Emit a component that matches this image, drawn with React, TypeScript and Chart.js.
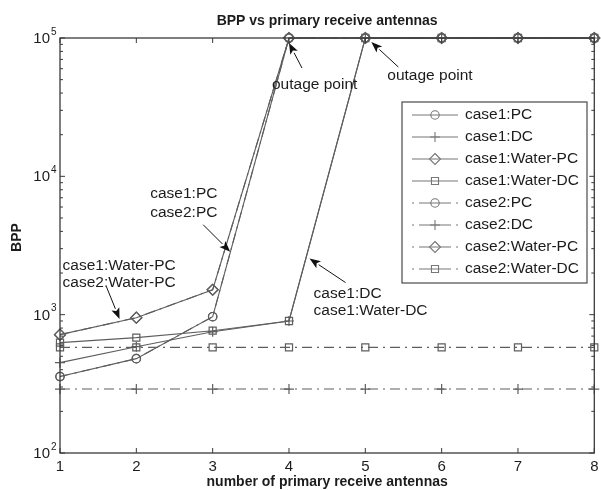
import { useEffect, useRef } from "react";
import { Chart, registerables } from "chart.js";

Chart.register(...registerables);

// ---- data -----------------------------------------------------------
const antennas = [1, 2, 3, 4, 5, 6, 7, 8];
const OUTAGE = 1e5;

const case1PC = [357, 481, 967, OUTAGE, OUTAGE, OUTAGE, OUTAGE, OUTAGE];
const case1DC = [450, 587, 753, 900, OUTAGE, OUTAGE, OUTAGE, OUTAGE];
const case1WaterPC = [717, 951, 1514, OUTAGE, OUTAGE, OUTAGE, OUTAGE, OUTAGE];
const case1WaterDC = [628, 682, 766, 900, OUTAGE, OUTAGE, OUTAGE, OUTAGE];
const case2PC = [357, 481, 967, OUTAGE, OUTAGE, OUTAGE, OUTAGE, OUTAGE];
const case2DC = [290, 290, 290, 290, 290, 290, 290, 290];
const case2WaterPC = [717, 951, 1514, OUTAGE, OUTAGE, OUTAGE, OUTAGE, OUTAGE];
const case2WaterDC = [580, 580, 580, 580, 580, 580, 580, 580];

const seriesNames = [
  "case1:PC",
  "case1:DC",
  "case1:Water-PC",
  "case1:Water-DC",
  "case2:PC",
  "case2:DC",
  "case2:Water-PC",
  "case2:Water-DC",
];
const seriesValues = [
  case1PC,
  case1DC,
  case1WaterPC,
  case1WaterDC,
  case2PC,
  case2DC,
  case2WaterPC,
  case2WaterDC,
];

const xTickLabels = ["1", "2", "3", "4", "5", "6", "7", "8"];
const yDecades = [2, 3, 4, 5];

const titleText = "BPP vs primary receive antennas";
const xTitle = "number of primary receive antennas";
const yTitle = "BPP";

// ---- styles -----------------------------------------------------------
type Marker = "circle" | "cross" | "rectRot" | "rect";
const markers: Marker[] = ["circle", "cross", "rectRot", "rect", "circle", "cross", "rectRot", "rect"];
const markerRadius: Record<Marker, number> = { circle: 4.2, cross: 5, rectRot: 5.5, rect: 5 };
const dashed = [false, false, false, false, true, true, true, true];

const LINE = "#5e5e5e";
const AXIS = "#3a3a3a";
const TEXT = "#1c1c1c";
const DASH_DOT = [10, 5, 2, 5];
const FONT = '"Liberation Sans", Arial, sans-serif';

// annotation arrows: anchor in data space, everything else in pixel offsets from it
type Note = {
  lines: string[];
  at: [number, number];
  tip: [number, number];
  tail: [number, number];
  textX: number;
  textY: number[];
};
const notes: Note[] = [
  { lines: ["outage point"], at: [4, OUTAGE], tip: [0, 5], tail: [13, 25], textX: -17, textY: [42] },
  { lines: ["outage point"], at: [5, OUTAGE], tip: [6, 4], tail: [27, 25], textX: 16, textY: [34] },
  { lines: ["case1:PC", "case2:PC"], at: [3.23, 2850], tip: [0, 0], tail: [-27, -27], textX: -80, textY: [-58, -39] },
  { lines: ["case1:Water-PC", "case2:Water-PC"], at: [1.78, 900], tip: [0, -2], tail: [-13, -32], textX: -57, textY: [-53, -36] },
  { lines: ["case1:DC", "case1:Water-DC"], at: [4.23, 2630], tip: [3, 2], tail: [36, 24], textX: 4, textY: [35, 52] },
];

function drawMarker(ctx: CanvasRenderingContext2D, kind: Marker, x: number, y: number) {
  const r = markerRadius[kind];
  ctx.beginPath();
  if (kind === "circle") {
    ctx.arc(x, y, r, 0, Math.PI * 2);
  } else if (kind === "cross") {
    ctx.moveTo(x - r, y);
    ctx.lineTo(x + r, y);
    ctx.moveTo(x, y - r);
    ctx.lineTo(x, y + r);
  } else if (kind === "rectRot") {
    ctx.moveTo(x, y - r);
    ctx.lineTo(x + r, y);
    ctx.lineTo(x, y + r);
    ctx.lineTo(x - r, y);
    ctx.closePath();
  } else {
    const h = r * Math.SQRT1_2;
    ctx.rect(x - h, y - h, 2 * h, 2 * h);
  }
  ctx.stroke();
}

function drawArrow(ctx: CanvasRenderingContext2D, tx: number, ty: number, fx: number, fy: number) {
  const ang = Math.atan2(ty - fy, tx - fx);
  const head = 11;
  const half = 4.2;
  const bx = tx - head * Math.cos(ang);
  const by = ty - head * Math.sin(ang);
  ctx.strokeStyle = "#111";
  ctx.fillStyle = "#111";
  ctx.lineWidth = 1;
  ctx.beginPath();
  ctx.moveTo(fx, fy);
  ctx.lineTo(bx, by);
  ctx.stroke();
  ctx.beginPath();
  ctx.moveTo(tx, ty);
  ctx.lineTo(bx + half * Math.sin(ang), by - half * Math.cos(ang));
  ctx.lineTo(bx + 2.5 * Math.cos(ang), by + 2.5 * Math.sin(ang));
  ctx.lineTo(bx - half * Math.sin(ang), by + half * Math.cos(ang));
  ctx.closePath();
  ctx.fill();
}

const framePlugin = {
  id: "matlabFrame",
  afterDraw(chart: any) {
    const ctx: CanvasRenderingContext2D = chart.ctx;
    const { left, right, top, bottom } = chart.chartArea;
    const xs = chart.scales.x;
    const ys = chart.scales.y;
    ctx.save();

    // axes box
    ctx.strokeStyle = AXIS;
    ctx.lineWidth = 1.3;
    ctx.setLineDash([]);
    ctx.strokeRect(left, top, right - left, bottom - top);

    // y ticks (major + minor, inward on both sides)
    ctx.lineWidth = 1;
    ctx.beginPath();
    yDecades.forEach((d) => {
      const py = ys.getPixelForValue(Math.pow(10, d));
      ctx.moveTo(left, py);
      ctx.lineTo(left + 5, py);
      ctx.moveTo(right, py);
      ctx.lineTo(right - 5, py);
      if (d < yDecades[yDecades.length - 1]) {
        for (let m = 2; m <= 9; m++) {
          const pm = ys.getPixelForValue(m * Math.pow(10, d));
          ctx.moveTo(left, pm);
          ctx.lineTo(left + 3, pm);
          ctx.moveTo(right, pm);
          ctx.lineTo(right - 3, pm);
        }
      }
    });
    // x ticks
    antennas.forEach((a) => {
      const px = xs.getPixelForValue(a);
      ctx.moveTo(px, bottom);
      ctx.lineTo(px, bottom - 5);
      ctx.moveTo(px, top);
      ctx.lineTo(px, top + 5);
    });
    ctx.stroke();

    // tick labels
    ctx.fillStyle = TEXT;
    ctx.textBaseline = "middle";
    ctx.textAlign = "center";
    ctx.font = `15px ${FONT}`;
    antennas.forEach((a, i) => {
      ctx.fillText(xTickLabels[i], xs.getPixelForValue(a), bottom + 14);
    });
    yDecades.forEach((d) => {
      const py = ys.getPixelForValue(Math.pow(10, d));
      ctx.font = `15px ${FONT}`;
      ctx.textAlign = "right";
      ctx.fillText("10", left - 10, py + 1);
      ctx.font = `10px ${FONT}`;
      ctx.textAlign = "left";
      ctx.fillText(String(d), left - 9, py - 6);
    });

    // titles
    ctx.font = `bold 14px ${FONT}`;
    ctx.textAlign = "center";
    ctx.fillText(titleText, (left + right) / 2, 21);
    ctx.fillText(xTitle, (left + right) / 2, bottom + 29);
    ctx.save();
    ctx.translate(17, (top + bottom) / 2 - 8);
    ctx.rotate(-Math.PI / 2);
    ctx.fillText(yTitle, 0, 0);
    ctx.restore();

    // annotations
    ctx.font = `15.5px ${FONT}`;
    notes.forEach((n) => {
      const ax = xs.getPixelForValue(n.at[0]);
      const ay = ys.getPixelForValue(n.at[1]);
      const tx = ax + n.tip[0];
      const ty = ay + n.tip[1];
      drawArrow(ctx, tx, ty, tx + n.tail[0], ty + n.tail[1]);
      ctx.fillStyle = TEXT;
      ctx.textAlign = "left";
      ctx.textBaseline = "middle";
      n.lines.forEach((t, i) => ctx.fillText(t, tx + n.textX, ty + n.textY[i]));
    });

    // legend
    const lx = 402;
    const ly = 102;
    const lw = 185;
    const lh = 181;
    ctx.fillStyle = "#fff";
    ctx.fillRect(lx, ly, lw, lh);
    ctx.strokeStyle = "#4a4a4a";
    ctx.lineWidth = 1.2;
    ctx.strokeRect(lx, ly, lw, lh);
    seriesNames.forEach((name, i) => {
      const ry = ly + 13 + i * 22;
      ctx.strokeStyle = "#777";
      ctx.lineWidth = 1.1;
      if (dashed[i]) {
        ctx.setLineDash([2, 5, 32, 5]);
      } else {
        ctx.setLineDash([]);
      }
      ctx.beginPath();
      ctx.moveTo(lx + 10, ry);
      ctx.lineTo(lx + 56, ry);
      ctx.stroke();
      ctx.setLineDash([]);
      ctx.fillStyle = "#fff";
      drawMarker(ctx, markers[i], lx + 33, ry);
      ctx.fillStyle = TEXT;
      ctx.font = `15.5px ${FONT}`;
      ctx.textAlign = "left";
      ctx.textBaseline = "middle";
      ctx.fillText(name, lx + 63, ry);
    });

    ctx.restore();
  },
};

export default function App() {
  const canvasRef = useRef<HTMLCanvasElement | null>(null);

  useEffect(() => {
    const canvas = canvasRef.current;
    if (!canvas) return;
    const chart = new Chart(canvas, {
      type: "line",
      data: {
        datasets: seriesNames.map((name, i) => ({
          label: name,
          data: antennas.map((a, j) => ({ x: a, y: seriesValues[i][j] })),
          borderColor: LINE,
          borderWidth: 1.1,
          borderDash: dashed[i] ? DASH_DOT : [],
          pointStyle: markers[i],
          pointRadius: markerRadius[markers[i]],
          pointBorderColor: LINE,
          pointBorderWidth: 1.2,
          pointBackgroundColor: "rgba(0,0,0,0)",
          tension: 0,
          clip: false as any,
          fill: false,
        })),
      },
      options: {
        responsive: false,
        maintainAspectRatio: false,
        animation: false,
        events: [],
        layout: { padding: { left: 60, right: 4, top: 38, bottom: 37 } },
        scales: {
          x: { type: "linear", min: 1, max: 8, display: false },
          y: { type: "logarithmic", min: 100, max: 100000, display: false },
        },
        plugins: {
          legend: { display: false },
          title: { display: false },
          tooltip: { enabled: false },
        },
      },
      plugins: [framePlugin],
    });
    return () => chart.destroy();
  }, []);

  return (
    <div style={{ position: "fixed", left: 0, top: 0, width: 601, height: 490, background: "#fff" }}>
      <canvas ref={canvasRef} width={601} height={490} style={{ display: "block" }} />
    </div>
  );
}
